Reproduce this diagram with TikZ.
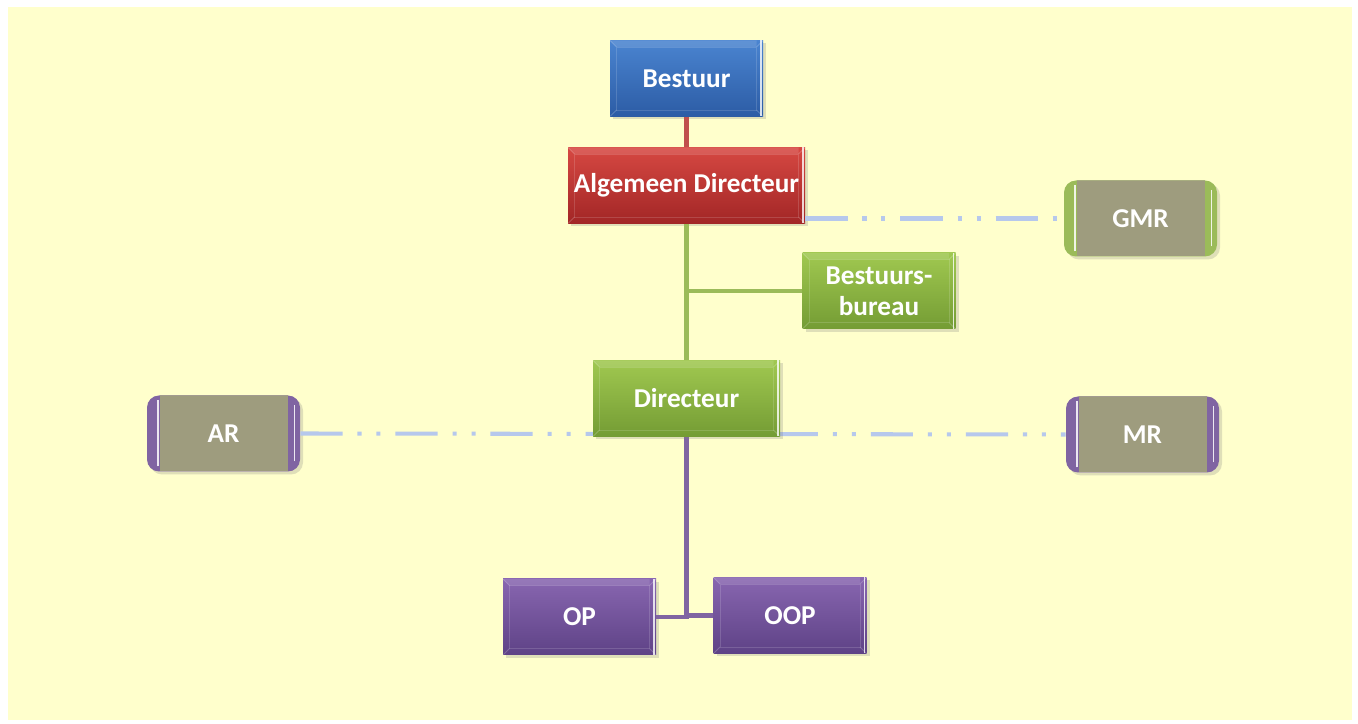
\documentclass[tikz,border=0pt]{standalone}
\usepackage{fontspec}
\setmainfont{Carlito}
\usepackage{tikz}
\usetikzlibrary{positioning, shadows, calc}
\definecolor{geelAchter}{RGB}{255,255,204}
\definecolor{blauwTop}{RGB}{74,132,208}
\definecolor{blauwBodem}{RGB}{44,92,165}
\definecolor{roodTop}{RGB}{214,72,66}
\definecolor{roodBodem}{RGB}{162,38,38}
\definecolor{groenTop}{RGB}{160,200,80}
\definecolor{groenBodem}{RGB}{116,156,52}
\definecolor{paarsTop}{RGB}{136,102,176}
\definecolor{paarsBodem}{RGB}{94,66,134}
\definecolor{grijsVlak}{RGB}{158,156,126}
\definecolor{lijnRood}{RGB}{192,80,77}
\definecolor{lijnGroen}{RGB}{155,187,89}
\definecolor{lijnPaars}{RGB}{128,100,162}
\definecolor{lijnAdvies}{RGB}{182,200,236}
\tikzset{
  oc/box/.style={rectangle, minimum width=30.6mm, minimum height=15.2mm,
    inner sep=1pt, align=center, text=white,
    font=\fontsize{15.5}{17.5}\selectfont\bfseries,
    drop shadow={opacity=0.25, shadow xshift=0.6mm, shadow yshift=-0.6mm},
    path picture={
      \draw[white, opacity=0.15, line width=0.5pt]
        ([shift={(1.3mm,1.3mm)}]path picture bounding box.south west)
        rectangle ([shift={(-1.3mm,-1.3mm)}]path picture bounding box.north east);
      \draw[white, opacity=0.2, line width=0.5pt]
        (path picture bounding box.north west) -- ++(1.3mm,-1.3mm)
        (path picture bounding box.north east) -- ++(-1.3mm,-1.3mm)
        (path picture bounding box.south west) -- ++(1.3mm,1.3mm)
        (path picture bounding box.south east) -- ++(-1.3mm,1.3mm);
      \fill[white, opacity=0.12]
        (path picture bounding box.north west) -- ++(1.3mm,-1.3mm)
        -| ([xshift=-1.3mm]path picture bounding box.north east)
        -- (path picture bounding box.north east) -- cycle;
      \draw[white, opacity=0.8, line width=0.9pt]
        ([xshift=-0.4mm]path picture bounding box.north east)
        -- ([xshift=-0.4mm]path picture bounding box.south east);
    }},
  oc/blauw/.style={oc/box, top color=blauwTop, bottom color=blauwBodem},
  oc/rood/.style={oc/box, top color=roodTop, bottom color=roodBodem},
  oc/groen/.style={oc/box, top color=groenTop, bottom color=groenBodem},
  oc/paars/.style={oc/box, top color=paarsTop, bottom color=paarsBodem},
  oc/raad/.style={rectangle, rounded corners=2.4mm, fill=#1,
    minimum width=30.6mm, minimum height=15.2mm,
    align=center, text=white, font=\fontsize{15.5}{17.5}\selectfont\bfseries,
    drop shadow={opacity=0.25, shadow xshift=0.6mm, shadow yshift=-0.6mm},
    path picture={
      \fill[grijsVlak, sharp corners]
        ([xshift=2.5mm]path picture bounding box.south west)
        rectangle ([xshift=-2.5mm]path picture bounding box.north east);
      \draw[white, opacity=0.85, line width=0.8pt, sharp corners]
        ([xshift=2.2mm, yshift=1mm]path picture bounding box.south west)
        -- ([xshift=2.2mm, yshift=-1mm]path picture bounding box.north west)
        ([xshift=-1.1mm, yshift=2mm]path picture bounding box.south east)
        -- ([xshift=-1.1mm, yshift=-2mm]path picture bounding box.north east);
    }},
  oc/lijn/.style={line width=2.6pt, draw=#1},
  oc/advies/.style={line width=2.3pt, draw=lijnAdvies,
    dash pattern=on 24pt off 8.5pt on 2.3pt off 8.5pt on 2.3pt off 8.5pt}
}
\begin{document}
\begin{tikzpicture}[x=1cm, y=1cm]
  \useasboundingbox (0,0) rectangle (27.16,14.46);
  \fill[geelAchter] (0.16,0.06) rectangle (27.04,14.32);

  \coordinate (pdir) at (13.73,6.49);

  \node[oc/blauw] at (13.73,12.89) (best) {Bestuur};
  \node[oc/rood, minimum width=47.4mm] at (13.73,10.75) (ad) {Algemeen Directeur};
  \node[oc/raad=lijnGroen] at (22.81,10.09) (gmr) {GMR};
  \node[oc/groen] at (17.58,8.64) (bb) {Bestuurs-\\bureau};
  \node[oc/raad=lijnPaars] at (4.47,5.79) (ar) {AR};
  \node[oc/raad=lijnPaars] at (22.85,5.77) (mr) {MR};
  \node[oc/paars] at (11.59,2.12) (op) {OP};
  \node[oc/paars] at (15.80,2.15) (oop) {OOP};

  % lijnen (achter de directeur)
  \draw[oc/advies] (ar.east) -- (mr.west);
  \draw[oc/lijn=lijnRood] (best.south) -- (ad.north);
  \draw[oc/lijn=lijnGroen] (ad.south) -- (pdir);
  \draw[oc/lijn=lijnGroen] (bb.west) -- (bb.west -| ad.south);
  \draw[oc/lijn=lijnPaars] (pdir) |- (op.east);
  \draw[oc/lijn=lijnPaars] (pdir) |- (oop.west);
  \node[oc/groen, minimum width=37.4mm] at (pdir) (dir) {Directeur};
  \draw[oc/advies] (ad.south east |- gmr.west) -- (gmr.west);
\end{tikzpicture}
\end{document}
